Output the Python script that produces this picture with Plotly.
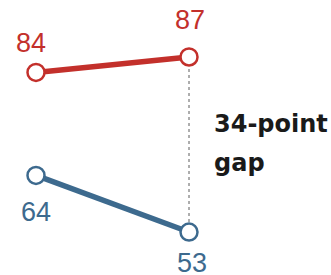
import plotly.graph_objects as go

periods = [0, 1]
red_values = [84, 87]
blue_values = [64, 53]
gap_lines = ["34-point", "gap"]

RED = "#c3302b"
BLUE = "#3d6a8e"

fig = go.Figure()

# dotted gap line between the two end points
fig.add_shape(type="line", x0=periods[1], x1=periods[1], y0=red_values[1], y1=blue_values[1],
              xref="x", yref="y", line=dict(color="#9a9a9a", width=1.6, dash="dot"), layer="below")

for vals, col in [(red_values, RED), (blue_values, BLUE)]:
    fig.add_trace(go.Scatter(
        x=periods, y=vals, mode="lines+markers",
        line=dict(color=col, width=5.5),
        marker=dict(size=17, color="white", line=dict(color=col, width=2.5)),
        hoverinfo="skip", showlegend=False, cliponaxis=False))

label_font = dict(family="Liberation Sans, Arial, sans-serif", size=27)
# red labels above, blue labels below
shifts_red = [(-5, 29), (1, 37)]
shifts_blue = [(0, -37), (3, -31)]
for xv, yv, (dx, dy) in zip(periods, red_values, shifts_red):
    fig.add_annotation(x=xv, y=yv, text=str(yv), showarrow=False, xshift=dx, yshift=dy,
                       font=dict(color=RED, **label_font))
for xv, yv, (dx, dy) in zip(periods, blue_values, shifts_blue):
    fig.add_annotation(x=xv, y=yv, text=str(yv), showarrow=False, xshift=dx, yshift=dy,
                       font=dict(color=BLUE, **label_font))

mid = (red_values[1] + blue_values[1]) / 2
for line_text, dy in zip(gap_lines, [21, -18]):
    fig.add_annotation(x=periods[1], y=mid, text="<b>" + line_text + "</b>",
                       showarrow=False, xanchor="left", align="left", xshift=23, yshift=dy,
                       font=dict(family="DejaVu Sans, sans-serif", size=24, color="#1a1a1a"))

fig.update_xaxes(range=[-0.2353, 1.928], visible=False, fixedrange=True)
fig.update_yaxes(range=[44.65, 98.07], visible=False, fixedrange=True)
fig.update_layout(width=331, height=275, margin=dict(l=0, r=0, t=0, b=0),
                  plot_bgcolor="white", paper_bgcolor="white")

fig.write_html("out.html", config={"displayModeBar": False},
               post_script="document.body.style.margin='0';document.body.style.overflow='hidden';")
